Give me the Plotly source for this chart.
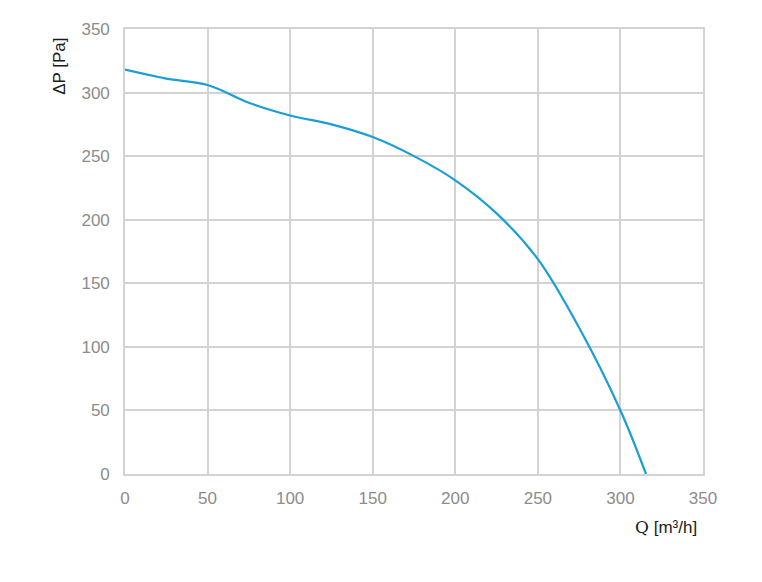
import plotly.graph_objects as go

# Fan curve: airflow Q [m³/h] vs static pressure ΔP [Pa]
flow_q = [0, 25, 50, 75, 100, 125, 150, 175, 200, 225, 250, 275, 300, 315.5]
pressure_dp = [318, 311, 306, 292, 282, 275, 265, 250, 231, 205, 169, 115, 50, 0]

x_ticks = [0, 50, 100, 150, 200, 250, 300, 350]
y_ticks = [0, 50, 100, 150, 200, 250, 300, 350]

fig = go.Figure()
fig.add_trace(go.Scatter(
    x=flow_q, y=pressure_dp, mode="lines",
    line=dict(color="#1a9ed6", width=2.2, shape="spline", smoothing=1.0),
    showlegend=False, hoverinfo="skip",
))

grid = "#d3d3d3"
tickfont = dict(family="Liberation Sans, Arial, sans-serif", size=17, color="#8c8c8c")

# the page body adds an 8px offset; margins compensate so the plot area lands in place
fig.update_layout(
    width=762, height=582,
    margin=dict(l=117, r=67, t=19, b=116),
    paper_bgcolor="white", plot_bgcolor="white",
    font=dict(family="Liberation Sans, Arial, sans-serif"),
    xaxis=dict(
        range=[0, 350], tickvals=x_ticks, ticktext=[str(v) for v in x_ticks],
        showgrid=True, gridcolor=grid, gridwidth=1.6,
        zeroline=False, showline=True, linecolor=grid, linewidth=1.6, mirror=True,
        ticks="outside", ticklen=8, tickcolor="rgba(0,0,0,0)",
        tickfont=tickfont, fixedrange=True,
    ),
    yaxis=dict(
        range=[0, 350], tickvals=y_ticks, ticktext=[str(v) for v in y_ticks],
        showgrid=True, gridcolor=grid, gridwidth=1.6,
        zeroline=False, showline=True, linecolor=grid, linewidth=1.6, mirror=True,
        ticks="outside", ticklen=10, tickcolor="rgba(0,0,0,0)",
        tickfont=tickfont, fixedrange=True,
    ),
    annotations=[
        dict(text="ΔP [Pa]", xref="paper", yref="paper",
             x=-(125 - 60) / 578, y=1.0 - (65 - 27) / 447, xanchor="center", yanchor="middle",
             textangle=-90, showarrow=False,
             font=dict(family="Liberation Sans, Arial, sans-serif", size=17, color="#1a1a1a")),
        dict(text="<span style='font-family:DejaVu Serif'>Q</span> [m³/h]", xref="paper", yref="paper",
             x=(666 - 125) / 578, y=-(527 - 474) / 447, xanchor="center", yanchor="middle",
             showarrow=False,
             font=dict(family="Liberation Sans, Arial, sans-serif", size=17, color="#1a1a1a")),
    ],
)

fig.write_html("out.html")
